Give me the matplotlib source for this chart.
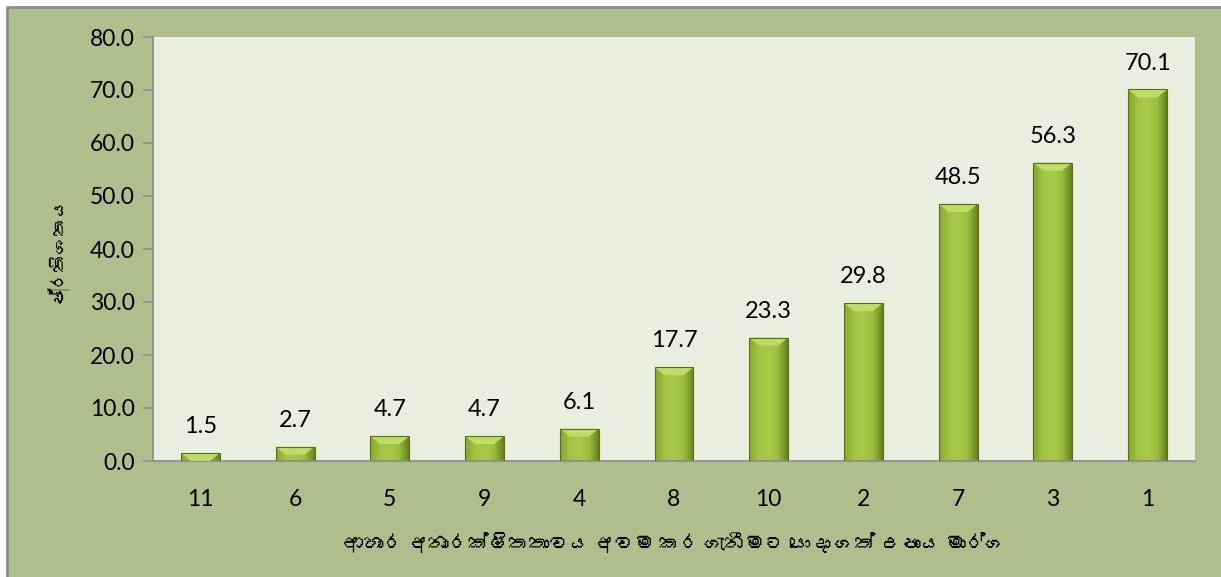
import numpy as np
import matplotlib.pyplot as plt
from matplotlib import font_manager
from matplotlib.patches import Rectangle, Polygon
from matplotlib.colors import LinearSegmentedColormap
from fontTools.ttLib import TTFont

categories = ['11', '6', '5', '9', '4', '8', '10', '2', '7', '3', '1']
values = [1.5, 2.7, 4.7, 4.7, 6.1, 17.7, 23.3, 29.8, 48.5, 56.3, 70.1]
y_ticks = [0, 10, 20, 30, 40, 50, 60, 70, 80]
y_label = 'ප්‍රතිශතය'
x_label = 'ආහාර අනාරක්ෂිතතාවය අවම කර ගැනීමට යොදා ගත් උපාය මාර්ග'

# look for any installed font that carries Sinhala glyphs
sinhala = []
for f in font_manager.fontManager.ttflist:
    try:
        t = TTFont(f.fname, fontNumber=0, lazy=True)
        cm = t.getBestCmap()
        if cm and 0x0D85 in cm and f.name not in sinhala:
            sinhala.append(f.name)
    except Exception:
        pass

plt.rcParams['font.family'] = ['Lato'] + sinhala + ['DejaVu Sans']

fig = plt.figure(figsize=(12.21, 5.77), dpi=100)
fig.patch.set_facecolor('white')
bg = Rectangle((7 / 1221, 0), 1214 / 1221, 570 / 577, transform=fig.transFigure,
               facecolor='#aebe8c', edgecolor='none', zorder=-10)
fig.patches.append(bg)
fig.lines.append(plt.Line2D([7 / 1221, 7 / 1221, 1], [0, 570 / 577, 570 / 577],
                            transform=fig.transFigure, color='#8c8c8c', linewidth=2))

ax = fig.add_axes([153 / 1221, 116 / 577, 1042 / 1221, 424 / 577])
ax.set_facecolor('#eaeede')

x = np.arange(len(categories))
w = 0.41
bars = ax.bar(x, values, width=w, color='#9cc03e', edgecolor='none', zorder=2)

# gradient fill + bevel for each bar
cmap = LinearSegmentedColormap.from_list('g', ['#86a82e', '#a0c443', '#a8cb4c', '#9abd3e', '#66841f'])
grad = np.tile(np.linspace(0, 1, 64), (16, 1))
ymax = 80
for b in bars:
    x0, h = b.get_x(), b.get_height()
    im = ax.imshow(grad, extent=(x0, x0 + w, 0, h), aspect='auto', cmap=cmap, zorder=2.5,
                   origin='lower')
    im.set_clip_path(b)
    dy = min(h, 8.0 / 424 * ymax)
    dx = min(w * 0.3, 10.0 / 94.7)
    ax.add_patch(Polygon([(x0, h), (x0 + w, h), (x0 + w - dx, h - dy), (x0 + dx, h - dy)],
                         closed=True, facecolor='#c0dc68', edgecolor='none', zorder=3))
    ax.add_patch(Rectangle((x0, 0), w, h, facecolor='none', edgecolor='#55701c',
                           linewidth=0.8, zorder=3.5))
    ax.text(b.get_x() + w / 2, h + 3.0, f'{h:.1f}', ha='center', va='bottom',
            fontsize=17, color='black')

ax.set_xlim(-0.5, len(categories) - 0.5)
ax.set_ylim(0, 80)
ax.set_yticks(y_ticks)
ax.set_yticklabels([f'{v:.1f}' for v in y_ticks])
ax.set_xticks(x)
ax.set_xticklabels(categories)

for s in ['top', 'right']:
    ax.spines[s].set_visible(False)
for s in ['left', 'bottom']:
    ax.spines[s].set_color('#8c8c8c')
    ax.spines[s].set_linewidth(1.2)
ax.tick_params(axis='y', length=7, color='#8c8c8c', width=1.2, labelsize=16.5, pad=6)
ax.tick_params(axis='x', length=0, labelsize=16.5, pad=20)

ax.set_ylabel(y_label, fontsize=13, fontweight='bold', labelpad=17)
ax.set_xlabel(x_label, fontsize=14.5, fontweight='bold', labelpad=17)

fig.savefig('out.png', dpi=100, facecolor=fig.get_facecolor())
